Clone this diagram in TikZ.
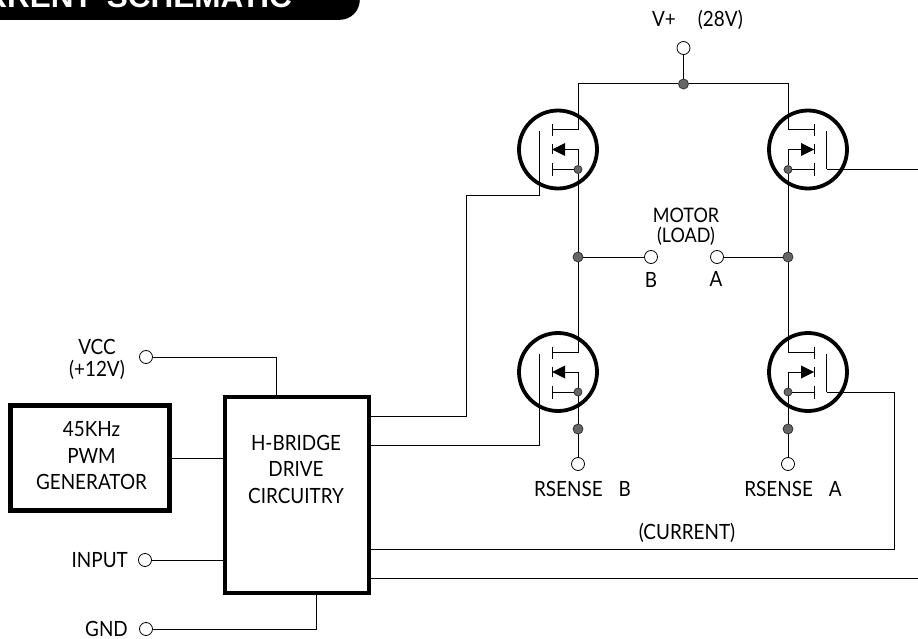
\documentclass[tikz,border=0pt]{standalone}
\usepackage{fontspec}
\setmainfont{Lato}[FakeStretch=0.9]
\newfontfamily\titlefont{Liberation Sans}
\usepackage{tikz}
\usetikzlibrary{positioning,calc}

% one transistor: name, x, y, mirror
\newcommand{\fet}[4]{
    \begin{scope}[shift={(#2,#3)}, xscale=#4]
        \node [fetring] (#1) at (0,0) {};
        \node [junc, minimum size=8pt] (#1-j) at (20,20) {};
        \coordinate (#1-d) at (20,-19.5);
        \coordinate (#1-g) at (-18.5,20);
        \draw [wire] (-6,-25.5) -- (-6,-13.5);
        \draw [wire] (-6,-5) -- (-6,5);
        \draw [wire] (-6,13.5) -- (-6,26.5);
        \draw [wire] (-18.5,-18) -- (#1-g);
        \draw [wire] (-6,-19.5) -- (#1-d);
        \draw [wire] (-6,20) -- (#1-j);
        \draw [wire] (7,0) -- (20,0) -- (#1-j);
        \fill (-6,0) -- (7,-6.5) -- (7,6.5) -- cycle;
    \end{scope}
}

\begin{document}
\begin{tikzpicture}[x=1pt, y=-1pt]
    \tikzstyle{wire} = [draw, line width=1pt]
    \tikzstyle{fetring} = [draw, circle, line width=3.8pt, minimum size=78pt, inner sep=0pt]
    \tikzstyle{junc} = [draw=black!80, circle, fill=black!60, line width=0.8pt, minimum size=10pt, inner sep=0pt]
    \tikzstyle{term} = [draw, circle, fill=white, line width=0.8pt, minimum size=13pt, inner sep=0pt]
    \tikzstyle{block} = [draw, rectangle, line width=4pt, inner sep=0pt]
    \tikzstyle{lbl} = [inner sep=0pt, align=center, font=\fontsize{21}{26.5}\selectfont]

    \useasboundingbox (0,0) rectangle (918,639);
    \clip (0,0) rectangle (918,639);

    % Title tab
    \node [fill=black, rounded corners=20pt, minimum width=400pt, minimum height=80pt, inner sep=0pt, anchor=south east] (tab) at (360,20) {};
    \node [anchor=base east, inner sep=0pt, text=white, font=\titlefont\bfseries\fontsize{31.5}{32}\selectfont] (title) at (292,8) {RRENT\hspace{14pt}SCHEMATIC};

    % Left blocks
    \node [block, line width=5pt, minimum width=159pt, minimum height=105pt] (pwm) at (90,458) {};
    \node [lbl] (pwmtext) at (91.5,456) {45KHz\\PWM\\GENERATOR};
    \node [block, minimum width=143.5pt, minimum height=196pt] (hb) at (296.75,494.5) {};
    \node [lbl] (hbtext) at (296,469) {H-BRIDGE\\DRIVE\\CIRCUITRY};

    \node [term] (vcc) at (146,357) {};
    \node [term] (input) at (145,560) {};
    \node [term] (gnd) at (146,629) {};
    \node [lbl, font=\fontsize{21}{22}\selectfont] (vcctext) at (97,359) {VCC\\(+12V)};
    \node [lbl, anchor=east] (inputtext) at (128,560) {INPUT};
    \node [lbl, anchor=east] (gndtext) at (128,629) {GND};

    \coordinate (hbt) at (276.5,396.5);
    \coordinate (hbg) at (316.5,592.5);
    \coordinate (h1) at (368.5,416);
    \coordinate (h2) at (368.5,445);
    \coordinate (h3) at (368.5,549);
    \coordinate (h4) at (368.5,578);

    \draw [wire] (vcc) -| (hbt);
    \draw [wire] (pwm) -- (pwm -| hb.west);
    \draw [wire] (input) -- (input -| hb.west);
    \draw [wire] (gnd) -| (hbg);

    % Bridge
    \fet{q1}{558}{149.5}{1}
    \fet{q2}{808}{149.5}{-1}
    \fet{q3}{558}{372}{1}
    \fet{q4}{808}{372}{-1}

    \node [term] (vplus) at (683.5,48) {};
    \node [junc] (jtop) at (683.5,84) {};
    \node [junc] (jb) at (578,257) {};
    \node [junc] (ja) at (788,257) {};
    \node [junc] (jsb) at (578,429) {};
    \node [junc] (jsa) at (788,429) {};
    \node [term] (tb) at (651,257) {};
    \node [term] (ta) at (717,257) {};
    \node [term] (rb) at (578,464) {};
    \node [term] (ra) at (788,464) {};

    \draw [wire] (vplus) -- (jtop);
    \draw [wire] (q1-d) |- (jtop);
    \draw [wire] (q2-d) |- (jtop);
    \draw [wire] (q1-j) -- (jb);
    \draw [wire] (q2-j) -- (ja);
    \draw [wire] (jb) -- (q3-d);
    \draw [wire] (ja) -- (q4-d);
    \draw [wire] (jb) -- (tb);
    \draw [wire] (ja) -- (ta);
    \draw [wire] (q3-j) -- (jsb);
    \draw [wire] (q4-j) -- (jsa);
    \draw [wire] (jsb) -- (rb);
    \draw [wire] (jsa) -- (ra);

    % Gate and sense runs
    \coordinate (cg1) at (466.5,196);
    \coordinate (cg4) at (894,549);
    \coordinate (out1) at (918,169.5);
    \coordinate (out2) at (918,578);

    \draw [wire] (q1-g) |- (cg1) |- (h1);
    \draw [wire] (q3-g) |- (h2);
    \draw [wire] (q2-g) -- (out1);
    \draw [wire] (q4-g) -| (cg4) -- (h3);
    \draw [wire] (h4) -- (out2);

    \node [lbl] (vplustext) at (697.5,20) {V+\hspace{22pt}(28V)};
    \node [lbl, font=\fontsize{20}{20}\selectfont] (motor) at (686,227) {MOTOR\\(LOAD)};
    \node [lbl] (blabel) at (651,280) {B};
    \node [lbl] (alabel) at (716,279) {A};
    \node [lbl] (rsb) at (582.5,489) {RSENSE\hspace{16pt}B};
    \node [lbl] (rsa) at (793,489) {RSENSE\hspace{16pt}A};
    \node [lbl] (current) at (687,533) {(CURRENT)};
\end{tikzpicture}
\end{document}
